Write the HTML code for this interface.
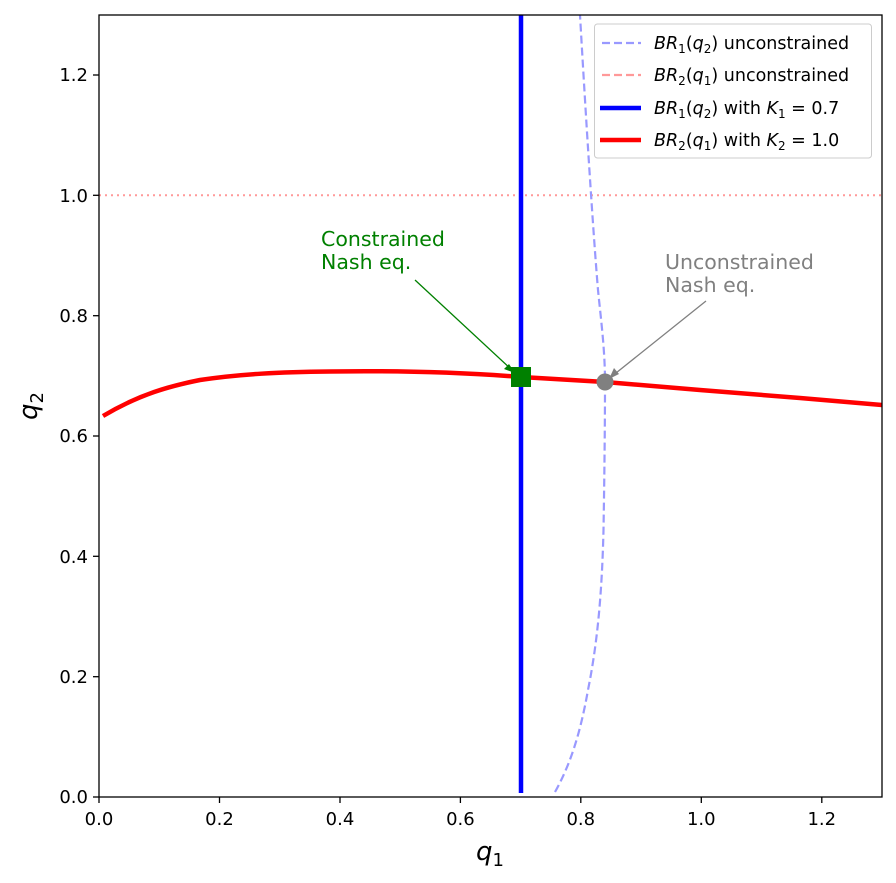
<!DOCTYPE html>
<html><head><meta charset="utf-8"><style>
html,body{margin:0;padding:0;background:#fff}
svg{display:block;font-family:"DejaVu Sans","Liberation Sans",sans-serif}
</style></head><body>
<svg width="896" height="883" viewBox="0 0 896 883" xmlns="http://www.w3.org/2000/svg">
<rect width="896" height="883" fill="#fff"/>
<defs><clipPath id="c"><rect x="99" y="15" width="783" height="782"/></clipPath></defs>
<g clip-path="url(#c)">
<line x1="99" y1="195.3" x2="882" y2="195.3" stroke="#ff9999" stroke-width="2" stroke-dasharray="2,4"/>
<path d="M555,792 C570,765 580,735 588,690 C598,640 602,590 603.5,530 C604.5,470 605,420 605,382 C605,350 601,320 598,290 C593,230 586,120 580,15" fill="none" stroke="#9999ff" stroke-width="2.2" stroke-dasharray="8,4"/>
<line x1="521" y1="15" x2="521" y2="793" stroke="#0000ff" stroke-width="4.5"/>
<path d="M103,416 C140,394 170,386 200,380 C240,374 280,372 330,371.5 C400,370.5 470,373 521,377 L605,382 L700,390 L800,398 L882,405" fill="none" stroke="#ff0000" stroke-width="4.5"/>
</g>
<rect x="511" y="367" width="20" height="20" fill="#008000"/>
<circle cx="605" cy="382" r="8.5" fill="#808080"/>
<line x1="415" y1="280" x2="513" y2="371" stroke="#008000" stroke-width="1.3"/>
<path d="M515,373 L504,369 L509,364 Z" fill="#008000"/>
<line x1="706" y1="301" x2="611" y2="377" stroke="#808080" stroke-width="1.3"/>
<path d="M609,379 L614,368 L619,374 Z" fill="#808080"/>
<text x="321" y="246" font-size="20.5" fill="#008000">Constrained</text>
<text x="321" y="269" font-size="20.5" fill="#008000">Nash eq.</text>
<text x="665" y="269" font-size="20.5" fill="#808080">Unconstrained</text>
<text x="665" y="292" font-size="20.5" fill="#808080">Nash eq.</text>
<rect x="99" y="15" width="783" height="782" fill="none" stroke="#000" stroke-width="1.3"/>
<g stroke="#000" stroke-width="1.3">
<line x1="99" y1="797" x2="99" y2="803"/><line x1="219.5" y1="797" x2="219.5" y2="803"/><line x1="340" y1="797" x2="340" y2="803"/><line x1="460.4" y1="797" x2="460.4" y2="803"/><line x1="580.8" y1="797" x2="580.8" y2="803"/><line x1="701.3" y1="797" x2="701.3" y2="803"/><line x1="821.8" y1="797" x2="821.8" y2="803"/>
<line x1="93" y1="797" x2="99" y2="797"/><line x1="93" y1="676.7" x2="99" y2="676.7"/><line x1="93" y1="556.3" x2="99" y2="556.3"/><line x1="93" y1="436" x2="99" y2="436"/><line x1="93" y1="315.7" x2="99" y2="315.7"/><line x1="93" y1="195.3" x2="99" y2="195.3"/><line x1="93" y1="75" x2="99" y2="75"/>
</g>
<g font-size="18" fill="#000" text-anchor="middle">
<text x="99" y="825">0.0</text><text x="219.5" y="825">0.2</text><text x="340" y="825">0.4</text><text x="460.4" y="825">0.6</text><text x="580.8" y="825">0.8</text><text x="701.3" y="825">1.0</text><text x="821.8" y="825">1.2</text>
</g>
<g font-size="18" fill="#000" text-anchor="end">
<text x="88" y="803">0.0</text><text x="88" y="683">0.2</text><text x="88" y="563">0.4</text><text x="88" y="442">0.6</text><text x="88" y="322">0.8</text><text x="88" y="202">1.0</text><text x="88" y="81">1.2</text>
</g>
<text x="490" y="860" font-size="26" font-style="italic" text-anchor="middle">q<tspan font-size="18" dy="6" font-style="normal">1</tspan></text>
<text transform="translate(37,406) rotate(-90)" font-size="26" font-style="italic" text-anchor="middle">q<tspan font-size="18" dy="6" font-style="normal">2</tspan></text>
<rect x="594.5" y="24" width="277" height="134" rx="3" fill="#fff" fill-opacity="0.8" stroke="#ccc"/>
<line x1="602" y1="43" x2="641" y2="43" stroke="#9999ff" stroke-width="2.2" stroke-dasharray="8,4"/>
<line x1="602" y1="75" x2="641" y2="75" stroke="#ff9999" stroke-width="2.2" stroke-dasharray="8,4"/>
<line x1="600" y1="108" x2="641" y2="108" stroke="#0000ff" stroke-width="4.5"/>
<line x1="600" y1="140" x2="641" y2="140" stroke="#ff0000" stroke-width="4.5"/>
<g font-size="17.5" fill="#000">
<text x="654" y="49"><tspan font-style="italic">BR</tspan><tspan font-size="12" dy="4">1</tspan><tspan dy="-4">(</tspan><tspan font-style="italic">q</tspan><tspan font-size="12" dy="4">2</tspan><tspan dy="-4">) unconstrained</tspan></text>
<text x="654" y="81"><tspan font-style="italic">BR</tspan><tspan font-size="12" dy="4">2</tspan><tspan dy="-4">(</tspan><tspan font-style="italic">q</tspan><tspan font-size="12" dy="4">1</tspan><tspan dy="-4">) unconstrained</tspan></text>
<text x="654" y="114"><tspan font-style="italic">BR</tspan><tspan font-size="12" dy="4">1</tspan><tspan dy="-4">(</tspan><tspan font-style="italic">q</tspan><tspan font-size="12" dy="4">2</tspan><tspan dy="-4">) with </tspan><tspan font-style="italic">K</tspan><tspan font-size="12" dy="4">1</tspan><tspan dy="-4"> = 0.7</tspan></text>
<text x="654" y="146"><tspan font-style="italic">BR</tspan><tspan font-size="12" dy="4">2</tspan><tspan dy="-4">(</tspan><tspan font-style="italic">q</tspan><tspan font-size="12" dy="4">1</tspan><tspan dy="-4">) with </tspan><tspan font-style="italic">K</tspan><tspan font-size="12" dy="4">2</tspan><tspan dy="-4"> = 1.0</tspan></text>
</g>
</svg>
</body></html>
